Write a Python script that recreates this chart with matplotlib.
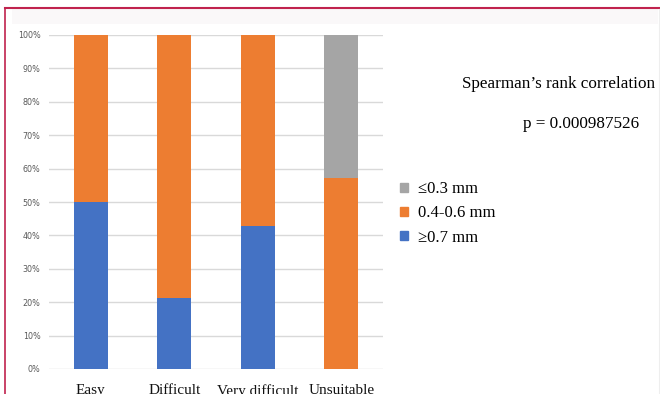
import matplotlib.pyplot as plt
import numpy as np
from matplotlib.patches import Patch, Rectangle
from matplotlib.lines import Line2D

# Proportions par catégorie de difficulté
categories = ['Easy', 'Difficult', 'Very difficult', 'Unsuitable']
pct_07 = [50.0, 21.4, 42.9, 0.0]      # >=0.7 mm
pct_0406 = [50.0, 78.6, 57.1, 57.1]   # 0.4-0.6 mm
pct_03 = [0.0, 0.0, 0.0, 42.9]        # <=0.3 mm
series_labels = ['\u22650.7 mm', '0.4-0.6 mm', '\u22640.3 mm']
yticks = [0, 10, 20, 30, 40, 50, 60, 70, 80, 90, 100]

c_blue = '#4472C4'
c_orange = '#ED7D31'
c_gray = '#A5A5A5'

fig = plt.figure(figsize=(6.6, 3.94), dpi=100)
fig.patch.set_facecolor('white')

# cadre et bandeau
fig.add_artist(Rectangle((12/660, 1-24/394), 646/660, 15/394, transform=fig.transFigure,
                         facecolor='#faf8f9', edgecolor='none', zorder=0))
fig.add_artist(Line2D([5/660, 1], [1-8/394, 1-8/394], transform=fig.transFigure,
                      color='#c0234e', lw=1.5))
fig.add_artist(Line2D([5/660, 5/660], [0, 1-8/394], transform=fig.transFigure,
                      color='#c0234e', lw=1.2))
fig.add_artist(Line2D([659/660, 659/660], [0, 1-9/394], transform=fig.transFigure,
                      color='#eeeeee', lw=0.8))

ax = fig.add_axes([49/660, 25/394, 334/660, 334/394])
x = np.arange(len(categories))
w = 0.41
b1 = np.array(pct_07)
b2 = b1 + np.array(pct_0406)
ax.bar(x, pct_07, w, color=c_blue, zorder=3)
ax.bar(x, pct_0406, w, bottom=b1, color=c_orange, zorder=3)
ax.bar(x, pct_03, w, bottom=b2, color=c_gray, zorder=3)

ax.set_xlim(-0.5, 3.5)
ax.set_ylim(0, 100)
ax.set_yticks(yticks)
ax.set_yticklabels([f'{v}%' for v in yticks], fontsize=5.8, color='#595959')
ax.yaxis.grid(True, color='#d9d9d9', lw=1)
ax.set_axisbelow(True)
for s in ax.spines.values():
    s.set_visible(False)
ax.tick_params(axis='y', length=0, pad=6)
ax.tick_params(axis='x', length=0, pad=11)
ax.set_xticks(x)
ax.set_xticklabels(categories, fontsize=11, family='Liberation Serif', color='#111111')

fig.text(462/660, 1-84/394, 'Spearman\u2019s rank correlation', fontsize=12.3,
         family='Liberation Serif', va='center', ha='left')
fig.text(523/660, 1-124/394, 'p = 0.000987526', fontsize=12.3,
         family='Liberation Serif', va='center', ha='left')

handles = [Patch(color=c_gray), Patch(color=c_orange), Patch(color=c_blue)]
fig.legend(handles, series_labels[::-1], loc='upper left',
           bbox_to_anchor=(400/660, 1-181/394), frameon=False, borderpad=0,
           borderaxespad=0, handlelength=0.45, handleheight=0.45, handletextpad=0.65,
           labelspacing=0.5,
           prop={'family': ['Liberation Serif', 'DejaVu Sans'], 'size': 12})

fig.savefig('out.png', dpi=100)
